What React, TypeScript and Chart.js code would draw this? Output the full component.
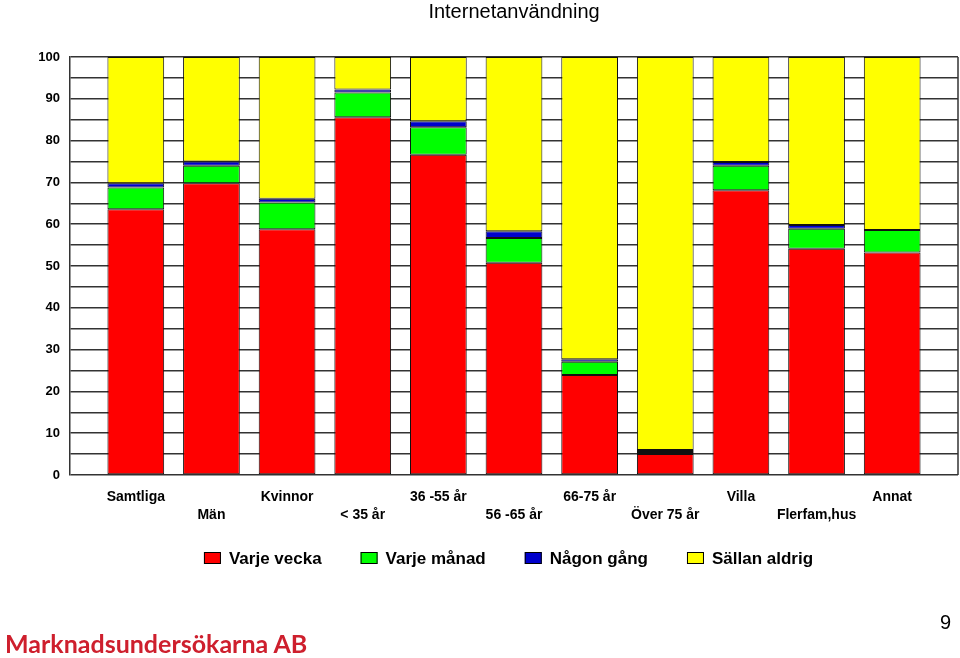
import React, { useEffect, useRef } from 'react';
import { Chart, registerables } from 'chart.js';

Chart.register(...registerables);

const FONT = '"Liberation Sans", Arial, sans-serif';

const chartTitle = 'Internetanvändning';
const categories = ['Samtliga', 'Män', 'Kvinnor', '< 35 år', '36 -55 år', '56 -65 år', '66-75 år', 'Över 75 år', 'Villa', 'Flerfam,hus', 'Annat'];
const seriesNames = ['Varje vecka', 'Varje månad', 'Någon gång', 'Sällan aldrig'];
const seriesColors = ['#FF0000', '#00FF00', '#0000CC', '#FFFF00'];

const varjeVecka = [63.6, 69.8, 58.8, 85.6, 76.6, 50.8, 23.9, 5.0, 68.1, 54.1, 53.2];
const varjeManad = [5.2, 4.2, 6.4, 5.9, 6.6, 5.9, 3.2, 0.5, 5.9, 4.8, 5.4];
const nagonGang = [1.0, 1.0, 0.9, 0.7, 1.4, 1.6, 0.6, 0.5, 0.9, 0.9, 0.0];
const sallanAldrig = [30.2, 25.0, 33.9, 7.8, 15.4, 41.7, 72.3, 94.0, 25.1, 40.2, 41.4];

const yMin = 0;
const yMax = 100;
const yGridStep = 5;
const yLabelStep = 10;

const footerText = 'Marknadsundersökarna AB';
const pageNumber = '9';

const allSeries = [varjeVecka, varjeManad, nagonGang, sallanAldrig];

const decorPlugin = {
  id: 'decor',
  afterDraw(chart: any) {
    const { ctx, chartArea } = chart;
    ctx.save();
    // right border of plot
    ctx.strokeStyle = '#333';
    ctx.lineWidth = 1.5;
    ctx.beginPath();
    ctx.moveTo(chartArea.right, chartArea.top);
    ctx.lineTo(chartArea.right, chartArea.bottom);
    ctx.stroke();

    // title
    ctx.fillStyle = '#000';
    ctx.font = `20px ${FONT}`;
    ctx.textAlign = 'center';
    ctx.textBaseline = 'middle';
    ctx.fillText(chartTitle, (chartArea.left + chartArea.right) / 2, 12);

    // legend
    ctx.font = `bold 17px ${FONT}`;
    const boxW = 17, boxH = 12, gap = 8, itemGap = 39;
    const widths = seriesNames.map((n) => ctx.measureText(n).width);
    const total = widths.reduce((a, w) => a + boxW + gap + w, 0) + itemGap * (seriesNames.length - 1);
    let x = 508.5 - total / 2;
    const cy = 558;
    ctx.textAlign = 'left';
    seriesNames.forEach((n, i) => {
      ctx.fillStyle = seriesColors[i];
      ctx.fillRect(x, cy - boxH / 2, boxW, boxH);
      ctx.strokeStyle = '#000';
      ctx.lineWidth = 1;
      ctx.strokeRect(x + 0.5, cy - boxH / 2 + 0.5, boxW - 1, boxH - 1);
      ctx.fillStyle = '#000';
      ctx.fillText(n, x + boxW + gap, cy + 1);
      x += boxW + gap + widths[i] + itemGap;
    });
    ctx.restore();
  },
};

export default function App() {
  const ref = useRef<HTMLCanvasElement | null>(null);

  useEffect(() => {
    const canvas = ref.current;
    if (!canvas) return;
    const chart = new Chart(canvas, {
      type: 'bar',
      data: {
        datasets: allSeries.map((vals, s) => ({
          label: seriesNames[s],
          data: vals.map((v, i) => ({ x: i, y: v })),
          backgroundColor: seriesColors[s],
          borderColor: '#111',
          borderWidth: 1,
          borderSkipped: false,
          barPercentage: 0.75,
          categoryPercentage: 1,
        })),
      },
      options: {
        responsive: false,
        animation: false,
        events: [],
        layout: { padding: { top: 57, left: 0, right: 2, bottom: 0 } },
        plugins: {
          legend: { display: false },
          title: { display: false },
          tooltip: { enabled: false },
        },
        scales: {
          x: {
            type: 'linear',
            stacked: true,
            offset: false,
            min: -0.87,
            max: 10.87,
            grid: { display: false },
            border: { display: false },
            afterBuildTicks: (scale: any) => {
              scale.ticks = categories.map((_, i) => ({ value: i }));
            },
            afterFit: (scale: any) => {
              scale.height = 183;
            },
            ticks: {
              autoSkip: false,
              maxRotation: 0,
              minRotation: 0,
              padding: 5,
              color: '#000',
              font: { family: FONT, size: 14, weight: 'bold', lineHeight: 1.3 },
              callback: (v: any) => {
                const i = Math.round(Number(v));
                const label = categories[i] ?? '';
                return i % 2 === 0 ? [label, ''] : ['', label];
              },
            },
          },
          y: {
            stacked: true,
            min: yMin,
            max: yMax,
            afterFit: (scale: any) => {
              scale.width = 70;
            },
            grid: { color: '#333', lineWidth: 1.5, drawTicks: false },
            border: { color: '#333', width: 1.5 },
            ticks: {
              stepSize: yGridStep,
              padding: 10,
              color: '#000',
              font: { family: FONT, size: 13, weight: 'bold' },
              callback: (v: any) => (Number(v) % yLabelStep === 0 ? String(v) : ''),
            },
          },
        },
      },
      plugins: [decorPlugin],
    });
    return () => chart.destroy();
  }, []);

  return (
    <div style={{ position: 'fixed', left: 0, top: 0, width: 960, height: 658, background: '#fff', overflow: 'hidden' }}>
      <canvas ref={ref} width={960} height={658} style={{ display: 'block' }} />
      <div
        style={{
          position: 'absolute',
          left: 5,
          top: 628,
          fontFamily: 'Lato, "Open Sans", sans-serif',
          fontWeight: 700,
          fontSize: 25,
          lineHeight: '30px',
          color: '#CE1F2D',
          whiteSpace: 'nowrap',
        }}
      >
        {footerText}
      </div>
      <div
        style={{
          position: 'absolute',
          right: 9,
          top: 610,
          fontFamily: FONT,
          fontSize: 20,
          lineHeight: '24px',
          color: '#000',
        }}
      >
        {pageNumber}
      </div>
    </div>
  );
}
